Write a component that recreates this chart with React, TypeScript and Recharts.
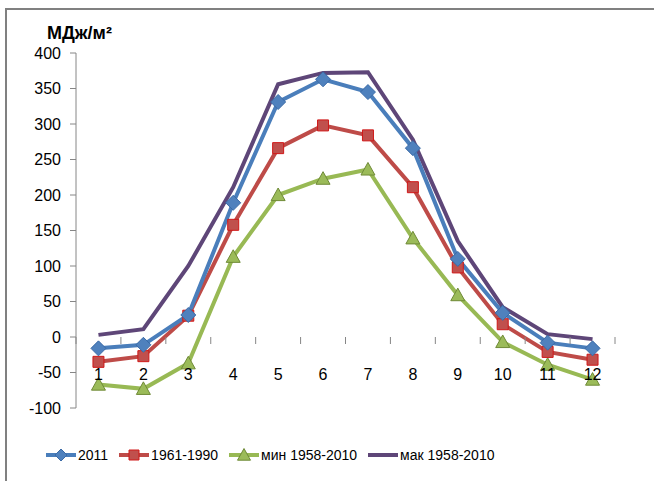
import { LineChart, Line, XAxis, YAxis } from 'recharts';

const months = ['1', '2', '3', '4', '5', '6', '7', '8', '9', '10', '11', '12'];
const values2011 = [-16, -11, 31, 189, 331, 363, 345, 266, 110, 34, -8, -16];
const values1961 = [-35, -27, 30, 158, 266, 298, 284, 211, 98, 18, -21, -32];
const valuesMin = [-67, -73, -37, 113, 200, 223, 236, 139, 59, -7, -39, -60];
const valuesMax = [3, 11, 100, 211, 356, 372, 373, 278, 135, 42, 4, -3];
const yTicks = [-100, -50, 0, 50, 100, 150, 200, 250, 300, 350, 400];
const seriesNames = ['2011', '1961-1990', 'мин 1958-2010', 'мак 1958-2010'];

const data = months.map((m, i) => ({
  month: m,
  s2011: values2011[i],
  s1961: values1961[i],
  sMin: valuesMin[i],
  sMax: valuesMax[i],
}));

const W = 654;
const H = 481;
const PLOT_LEFT = 76;
const PLOT_RIGHT = 615;
const PLOT_TOP = 53;
const PLOT_BOTTOM = 408;
const X_AXIS_H = 30;
const BAND = (PLOT_RIGHT - PLOT_LEFT) / months.length;
const Y_MIN = -100;
const Y_MAX = 400;
const ZERO_Y = PLOT_TOP + ((PLOT_BOTTOM - PLOT_TOP) * Y_MAX) / (Y_MAX - Y_MIN);

const FONT = "'Liberation Sans', Arial, sans-serif";
const AXIS = '#868686';

const COLORS = {
  blue: '#4A7EBB',
  red: '#BE4B48',
  green: '#98B954',
  purple: '#5E4678',
};

const diamond = (cx: number, cy: number, r: number) =>
  `M${cx},${cy - r}L${cx + r},${cy}L${cx},${cy + r}L${cx - r},${cy}Z`;
const square = (cx: number, cy: number, r: number) =>
  `M${cx - r},${cy - r}H${cx + r}V${cy + r}H${cx - r}Z`;
const triangle = (cx: number, cy: number, r: number) =>
  `M${cx},${cy - r}L${cx + r},${cy + r * 0.8}L${cx - r},${cy + r * 0.8}Z`;

const DiamondDot = (p: any) => (
  <path key={`d${p.index}`} d={diamond(p.cx, p.cy, 7.5)} fill="#4F81BD" stroke="#3A6AA6" strokeWidth={1} />
);
const SquareDot = (p: any) => (
  <path key={`s${p.index}`} d={square(p.cx, p.cy, 5.5)} fill="#C0504D" stroke="#D01818" strokeWidth={1} />
);
const TriangleDot = (p: any) => (
  <path key={`t${p.index}`} d={triangle(p.cx, p.cy, 7)} fill="#9BBB59" stroke="#6F8A37" strokeWidth={1} />
);

// labels sit under the zero line, ticks mark category boundaries
const XTick = (props: any) => {
  const { x, payload, index } = props;
  const half = BAND / 2;
  return (
    <g>
      <line x1={x - half} x2={x - half} y1={ZERO_Y} y2={ZERO_Y + 7} stroke={AXIS} />
      {index === months.length - 1 && (
        <line x1={x + half} x2={x + half} y1={ZERO_Y} y2={ZERO_Y + 7} stroke={AXIS} />
      )}
      <text x={x} y={ZERO_Y + 43} textAnchor="middle" fontSize={16} fontFamily={FONT} fill="#000">
        {payload.value}
      </text>
    </g>
  );
};

const legendItems = [
  { name: seriesNames[0], color: COLORS.blue, marker: 'diamond' },
  { name: seriesNames[1], color: COLORS.red, marker: 'square' },
  { name: seriesNames[2], color: COLORS.green, marker: 'triangle' },
  { name: seriesNames[3], color: COLORS.purple, marker: 'none' },
];

function LegendRow() {
  return (
    <div style={{ position: 'absolute', left: 46, top: 447, display: 'flex', alignItems: 'center', gap: 11 }}>
      {legendItems.map((it) => (
        <div key={it.name} style={{ display: 'flex', alignItems: 'center' }}>
          <svg width={30} height={16}>
            <line x1={0} x2={30} y1={8} y2={8} stroke={it.color} strokeWidth={4} />
            {it.marker === 'diamond' && <path d={diamond(15, 8, 6)} fill="#4F81BD" stroke="#3A6AA6" />}
            {it.marker === 'square' && <path d={square(15, 8, 5)} fill="#C0504D" stroke="#D01818" />}
            {it.marker === 'triangle' && <path d={triangle(15, 8, 6.5)} fill="#9BBB59" stroke="#6F8A37" />}
          </svg>
          <span style={{ fontFamily: FONT, fontSize: 14, color: '#000', marginLeft: 2 }}>{it.name}</span>
        </div>
      ))}
    </div>
  );
}

export default function App() {
  return (
    <div style={{ position: 'absolute', left: 0, top: 0, width: W, height: H, background: '#fff', overflow: 'hidden' }}>
      <div
        style={{
          position: 'absolute',
          left: 5,
          top: 8,
          width: W + 20,
          height: H + 20,
          borderTop: '2px solid #808080',
          borderLeft: '2px solid #808080',
        }}
      />
      <div
        style={{ position: 'absolute', left: 47, top: 23, fontFamily: FONT, fontSize: 18, fontWeight: 'bold', color: '#000' }}
      >
        МДж/м²
      </div>
      <div style={{ position: 'absolute', left: 0, top: 0 }}>
        <LineChart
          width={W}
          height={H}
          data={data}
          margin={{ top: PLOT_TOP, right: W - PLOT_RIGHT, bottom: H - PLOT_BOTTOM - X_AXIS_H, left: 0 }}
        >
          <XAxis
            dataKey="month"
            axisLine={false}
            tickLine={false}
            tick={XTick}
            interval={0}
            padding={{ left: BAND / 2, right: BAND / 2 }}
            height={X_AXIS_H}
          />
          <YAxis
            width={PLOT_LEFT}
            domain={[Y_MIN, Y_MAX]}
            ticks={yTicks}
            interval={0}
            axisLine={{ stroke: AXIS }}
            tickLine={{ stroke: AXIS }}
            tickSize={6}
            tickMargin={9}
            tick={{ fontSize: 16, fontFamily: FONT, fill: '#000' }}
          />
          <Line
            dataKey="sMax"
            name={seriesNames[3]}
            stroke={COLORS.purple}
            strokeWidth={4}
            dot={false}
            isAnimationActive={false}
          />
          <Line
            dataKey="sMin"
            name={seriesNames[2]}
            stroke={COLORS.green}
            strokeWidth={4}
            dot={TriangleDot}
            isAnimationActive={false}
          />
          <Line
            dataKey="s1961"
            name={seriesNames[1]}
            stroke={COLORS.red}
            strokeWidth={4}
            dot={SquareDot}
            isAnimationActive={false}
          />
          <Line
            dataKey="s2011"
            name={seriesNames[0]}
            stroke={COLORS.blue}
            strokeWidth={4}
            dot={DiamondDot}
            isAnimationActive={false}
          />
        </LineChart>
      </div>
      <LegendRow />
    </div>
  );
}
